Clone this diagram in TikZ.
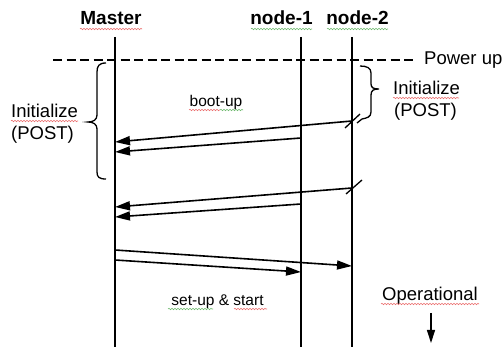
\documentclass[tikz,border=0pt]{standalone}
\usepackage{fontspec}
\setmainfont{Liberation Sans}
\usetikzlibrary{arrows.meta,decorations.pathmorphing}
\definecolor{spellred}{RGB}{235,110,110}
\definecolor{spellgreen}{RGB}{110,185,110}
\begin{document}
\begin{tikzpicture}[x=1pt,y=-1pt,
  title/.style={font=\bfseries\fontsize{19}{22}\selectfont,inner sep=0pt,anchor=base},
  label/.style={font=\fontsize{18.5}{21}\selectfont,inner sep=0pt,anchor=base west},
  small/.style={font=\fontsize{15.5}{18}\selectfont,inner sep=0pt,anchor=base},
  life/.style={line width=1.6pt},
  msg/.style={line width=1.6pt,-{Triangle[length=15pt,width=9pt]}},
  tick/.style={line width=1.3pt},
  bracepath/.style={line width=1.3pt},
  squig/.style={line width=0.6pt,decorate,decoration={snake,amplitude=0.7pt,segment length=3pt}}]
  \useasboundingbox (0,0) rectangle (504,347);

  % participants
  \node[title] (master) at (111,25) {Master};
  \node[title] (n1) at (281.5,25) {node-1};
  \node[title] (n2) at (357.5,25) {node-2};

  % lifelines
  \coordinate (mT) at (115,37);  \coordinate (mB) at (115,347);
  \coordinate (aT) at (301,37);  \coordinate (aB) at (301,347);
  \coordinate (bT) at (352,37);  \coordinate (bB) at (352,347);
  \draw[life] (mT) -- (mB);
  \draw[life] (aT) -- (aB);
  \draw[life] (bT) -- (bB);

  % power up line
  \coordinate (pL) at (53,60);
  \coordinate (pR) at (413,60);
  \draw[line width=1.3pt,dash pattern=on 9pt off 4.5pt] (pL) -- (pR);
  \node[label] (pu) at (424,65) {Power up};

  % initialisation braces
  \draw[bracepath] (106,63) .. controls (99,63) and (97,66) .. (97,72) -- (97,115)
    .. controls (97,120) and (93,122) .. (88,122)
    .. controls (93,122) and (97,124) .. (97,129) -- (97,172)
    .. controls (97,177) and (99,179) .. (106,179);
  \draw[bracepath] (360,66) .. controls (367,66) and (371,68) .. (371,73) -- (371,84)
    .. controls (371,88) and (374,89) .. (379,89)
    .. controls (374,89) and (371,90) .. (371,95) -- (371,112)
    .. controls (371,117) and (367,118) .. (362,119) -- (357,123);

  \node[label] (iniL) at (11,118) {Initialize};
  \node[label] (postL) at (11,140) {(POST)};
  \node[label] (iniR) at (393,95) {Initialize};
  \node[label] (postR) at (394,117) {(POST)};

  \node[small] (boot) at (216,107) {boot-up};
  \node[small] (setup) at (217.5,306) {set-up \& start};
  \node[label,anchor=base] (oper) at (430,301) {Operational};

  % boot-up messages
  \coordinate (b1s) at (352,121); \coordinate (b1e) at (115,142);
  \coordinate (a1s) at (301,138); \coordinate (a1e) at (115,152);
  \coordinate (b2s) at (352,188); \coordinate (b2e) at (115,207);
  \coordinate (a2s) at (301,204); \coordinate (a2e) at (115,217);
  \draw[msg] (b1s) -- (b1e);
  \draw[msg] (a1s) -- (a1e);
  \draw[msg] (b2s) -- (b2e);
  \draw[msg] (a2s) -- (a2e);
  \draw[tick] ([shift={(-7,7)}]b1s) -- ([shift={(8,-7)}]b1s);
  \draw[tick] ([shift={(-6,6)}]b2s) -- ([shift={(10,-8)}]b2s);

  % set-up messages
  \coordinate (s1s) at (115,250); \coordinate (s1e) at (352,266);
  \coordinate (s2s) at (115,260); \coordinate (s2e) at (301,272);
  \draw[msg] (s1s) -- (s1e);
  \draw[msg] (s2s) -- (s2e);

  % operational arrow
  \coordinate (oT) at (431,313);
  \coordinate (oB) at (431,343);
  \draw[msg,line width=1.3pt,-{Triangle[length=13pt,width=8pt]}] (oT) -- (oB);

  % spell-check underlines
  \draw[squig,spellred] (80,29) -- (142,29);
  \draw[squig,spellgreen] (251,29) -- (312,29);
  \draw[squig,spellgreen] (327,29) -- (388,29);
  \draw[squig,spellred] (11,121) -- (78,121);
  \draw[squig,spellred] (393,98) -- (459,98);
  \draw[squig,spellred] (189,110) -- (220,110);
  \draw[squig,spellgreen] (220,110) -- (243,110);
  \draw[squig,spellgreen] (168,309) -- (213,309);
  \draw[squig,spellred] (234,309) -- (267,309);
  \draw[squig,spellred] (381,304) -- (479,304);
\end{tikzpicture}
\end{document}
